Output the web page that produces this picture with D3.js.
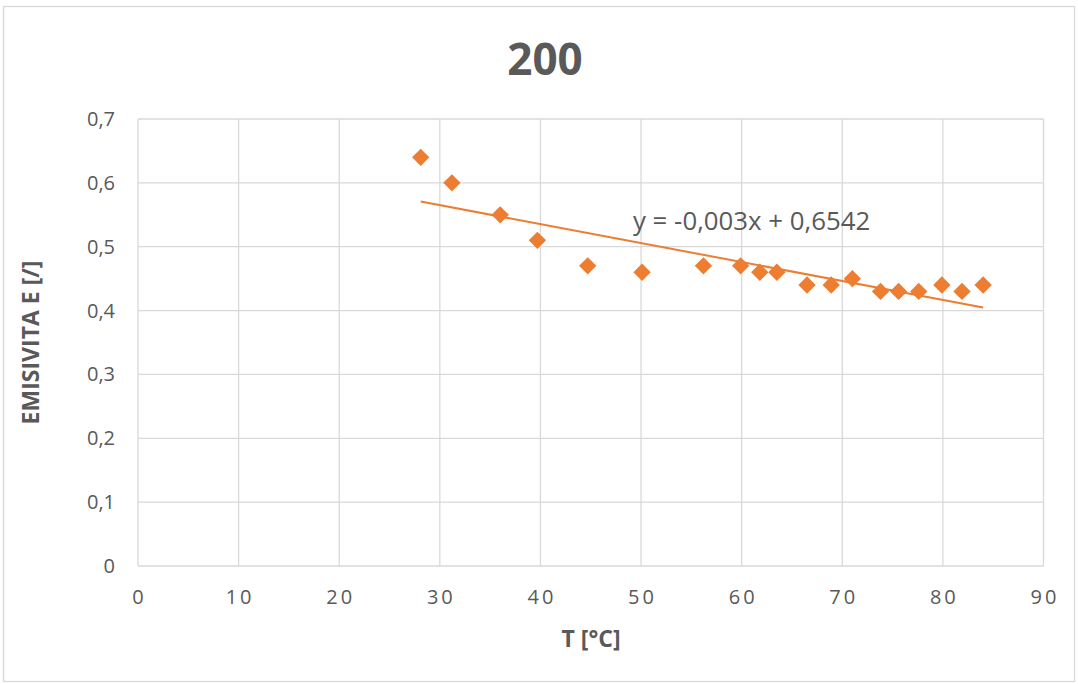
<!DOCTYPE html>
<html><head><meta charset="utf-8">
<script src="https://cdn.jsdelivr.net/npm/d3@7"></script>
<style>body{margin:0;background:#fff;}svg{display:block;}</style>
</head><body>
<script>
const temps = [28.1, 31.2, 36.0, 39.7, 44.7, 50.1, 56.2, 59.9, 61.8, 63.5, 66.5, 68.9, 71.0, 73.8, 75.6, 77.6, 79.9, 81.9, 84.0];
const emis  = [0.64, 0.60, 0.55, 0.51, 0.47, 0.46, 0.47, 0.47, 0.46, 0.46, 0.44, 0.44, 0.45, 0.43, 0.43, 0.43, 0.44, 0.43, 0.44];
const xTicks = [0,10,20,30,40,50,60,70,80,90];
const yTicks = [0,0.1,0.2,0.3,0.4,0.5,0.6,0.7];
const trendSlope = -0.00297, trendIntercept = 0.6542;
const title = "200", xLabel = "T [°C]", yLabel = "EMISIVITA E [/]";
const eqText = "y = -0,003x + 0,6542";

const W=1078,H=684;
const svg=d3.select("body").append("svg").attr("width",W).attr("height",H);
svg.append("rect").attr("x",3.5).attr("y",6.5).attr("width",1071).attr("height",675).attr("fill","#fff").attr("stroke","#d9d9d9").attr("stroke-width",1.3);
const x=d3.scaleLinear().domain([0,90]).range([138,1043.5]);
const y=d3.scaleLinear().domain([0,0.7]).range([566,119]);
const fmt=v=>d3.format(".1f")(v).replace(".",",");
const g=svg.append("g");
g.selectAll(".hg").data(yTicks).join("line").attr("x1",x(0)).attr("x2",x(90)).attr("y1",d=>y(d)).attr("y2",d=>y(d)).attr("stroke","#d9d9d9").attr("stroke-width",1.3);
g.selectAll(".vg").data(xTicks).join("line").attr("y1",y(0)).attr("y2",y(0.7)).attr("x1",d=>x(d)).attr("x2",d=>x(d)).attr("stroke","#d9d9d9").attr("stroke-width",1.3);
const font="'Open Sans', 'Noto Sans', sans-serif";
g.selectAll(".yl").data(yTicks).join("text").attr("x",115).attr("y",d=>y(d)).attr("dy","0.35em").attr("text-anchor","end")
 .attr("font-family",font).attr("font-size",20).attr("fill","#595959").text(d=>d===0?"0":fmt(d));
g.selectAll(".xl").data(xTicks).join("text").attr("x",d=>x(d)+1.5).attr("y",604).attr("text-anchor","middle")
 .attr("font-family",font).attr("font-size",20).attr("letter-spacing",3).attr("fill","#595959").text(d=>d);
// trendline
const x0=d3.min(temps),x1=d3.max(temps);
g.append("line").attr("x1",x(x0)).attr("y1",y(trendSlope*x0+trendIntercept)).attr("x2",x(x1)).attr("y2",y(trendSlope*x1+trendIntercept))
 .attr("stroke","#ED7D31").attr("stroke-width",2);
// points
const pts=temps.map((t,i)=>[t,emis[i]]);
g.selectAll(".pt").data(pts).join("path").attr("d",d3.symbol(d3.symbolSquare,150))
 .attr("transform",d=>`translate(${x(d[0])},${y(d[1])}) rotate(45)`).attr("fill","#ED7D31");
g.append("text").attr("x",633).attr("y",230).attr("font-family",font).attr("font-size",25.8).attr("fill","#595959").text(eqText);
svg.append("text").attr("x",545).attr("y",75).attr("text-anchor","middle").attr("font-family",font).attr("font-weight","bold").attr("font-size",44).attr("fill","#595959").text(title);
svg.append("text").attr("x",591).attr("y",647).attr("text-anchor","middle").attr("font-family",font).attr("font-weight","bold").attr("font-size",23).attr("fill","#595959").text(xLabel);
svg.append("text").attr("transform",`translate(39,${(y(0)+y(0.7))/2}) rotate(-90)`).attr("text-anchor","middle").attr("font-family",font).attr("font-weight","bold").attr("font-size",23).attr("fill","#595959").text(yLabel);
</script>
</body></html>
